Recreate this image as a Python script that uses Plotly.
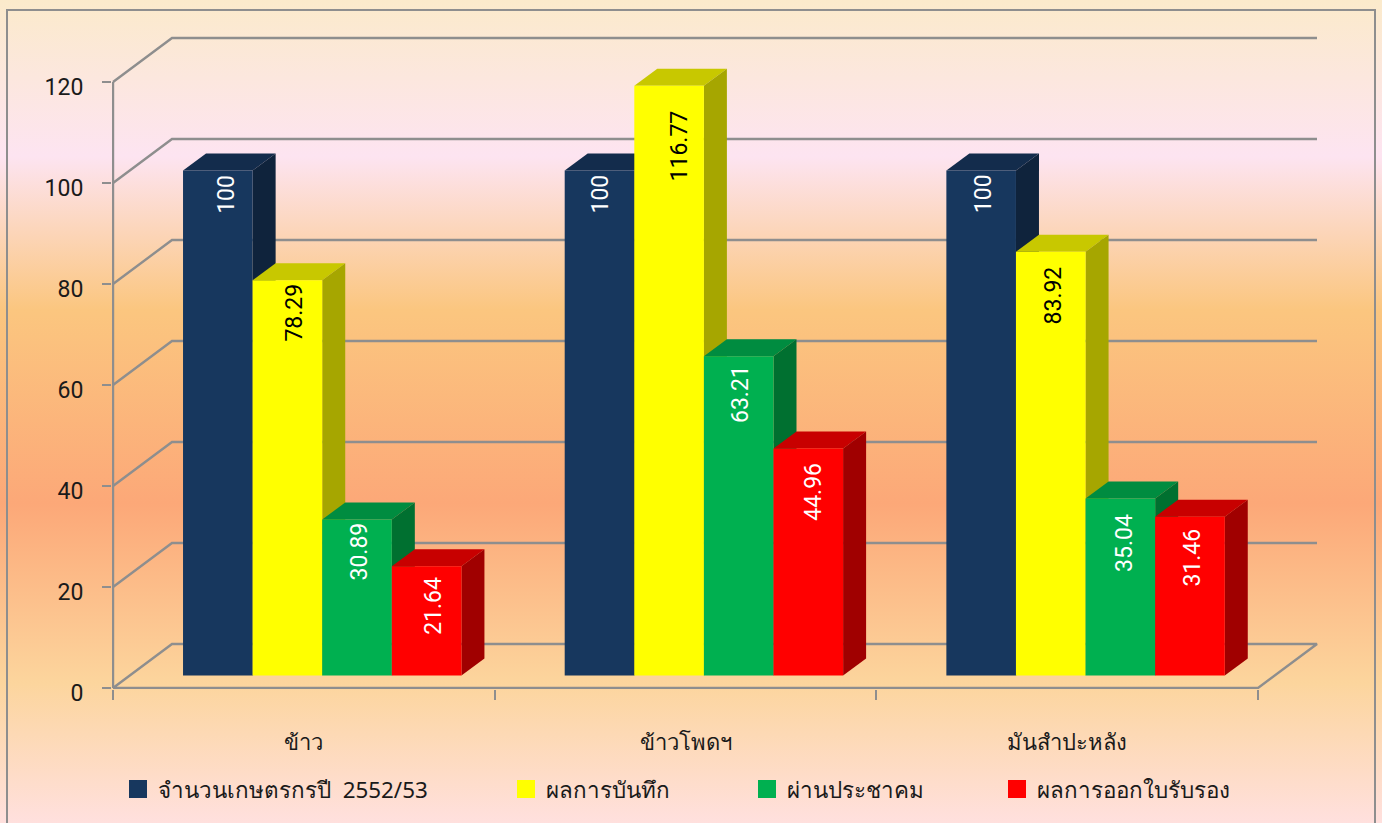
import plotly.graph_objects as go

categories = ["ข้าว", "ข้าวโพดฯ", "มันสำปะหลัง"]
series_names = ["จำนวนเกษตรกรปี  2552/53", "ผลการบันทึก", "ผ่านประชาคม", "ผลการออกใบรับรอง"]
farmers = [100, 100, 100]
recorded = [78.29, 116.77, 83.92]
community = [30.89, 63.21, 35.04]
certified = [21.64, 44.96, 31.46]
series_values = [farmers, recorded, community, certified]
front_colors = ["#17375E", "#FFFF00", "#00B050", "#FF0000"]
top_colors = ["#132C4C", "#C8C800", "#008C40", "#C80000"]
side_colors = ["#0F233C", "#A6A600", "#007030", "#A00000"]
label_colors = ["white", "black", "white", "white"]
label_drops = [[2, 2, 2], [1, 23, 13], [1, 7, 13], [9, 12, 10]]
label_shifts = [[8, 0, 2], [7, 10, 3], [2, 2, 4], [7, 5, 3]]
y_ticks = [0, 20, 40, 60, 80, 100, 120]

W, H = 1382, 823
FIG_H = 850  # taller than the window so the legends do not push the margins
L, R, T, B = 112, 1318, 36, 689
FONT = "Noto Sans, Lato, sans-serif"
NUM_FONT = "Roboto, Noto Sans, sans-serif"
GRID = "#8E8E8E"
TEXT = "#1a1a1a"

# Chart geometry in axis units
cat_px = (1258 - 113) / 3
unit_px = 606 / 120
wall_dx = 59 / cat_px
wall_dy = 44 / unit_px
plane_dx = 18.4 / cat_px
plane_dy = 12.5 / unit_px
depth_dx = 23 / cat_px
depth_dy = 17 / unit_px
bar_w = 69.6 / cat_px
x_range = [-1 / cat_px, 3 + wall_dx + 1 / cat_px]
y_range = [-1 / unit_px, 120 + wall_dy + 2 / unit_px]

fig = go.Figure()

# walls and floor
for v in y_ticks:
    if v == 0:
        xs = [0, wall_dx, 3 + wall_dx, 3, 0]
        ys = [0, wall_dy, wall_dy, 0, 0]
    else:
        xs = [0, wall_dx, 3 + wall_dx]
        ys = [v, v + wall_dy, v + wall_dy]
    fig.add_trace(go.Scatter(x=xs, y=ys, mode="lines", line=dict(color=GRID, width=2.4),
                             showlegend=False, hoverinfo="skip"))
fig.add_trace(go.Scatter(x=[0, 0], y=[0, 120], mode="lines", line=dict(color=GRID, width=2.4),
                         showlegend=False, hoverinfo="skip"))


def bar_x(c, s):
    return c + 0.5 + plane_dx + (s - 2 + 0.5) * bar_w


# side and top faces, computed from each value
for c in range(3):
    for s in range(4):
        v = series_values[s][c] + plane_dy
        x0 = bar_x(c, s) - bar_w / 2
        x1 = x0 + bar_w
        fig.add_trace(go.Scatter(
            x=[x0, x1, x1 + depth_dx, x0 + depth_dx, x0], y=[v, v, v + depth_dy, v + depth_dy, v],
            xaxis="x2", yaxis="y2", mode="lines", fill="toself", fillcolor=top_colors[s],
            line=dict(width=0), showlegend=False, hoverinfo="skip"))
        fig.add_trace(go.Scatter(
            x=[x1, x1 + depth_dx, x1 + depth_dx, x1, x1],
            y=[plane_dy, plane_dy + depth_dy, v + depth_dy, v, plane_dy],
            xaxis="x2", yaxis="y2", mode="lines", fill="toself", fillcolor=side_colors[s],
            line=dict(width=0), showlegend=False, hoverinfo="skip"))

# front faces
for s in range(4):
    fig.add_trace(go.Bar(
        x=[bar_x(c, s) for c in range(3)], y=series_values[s], base=plane_dy, width=bar_w,
        marker=dict(color=front_colors[s], line=dict(width=0)), name=series_names[s],
        xaxis="x3", yaxis="y3", showlegend=False))

# legends
legend_left = [118, 506, 747, 997]
for s in range(4):
    key = "legend" if s == 0 else f"legend{s + 1}"
    fig.add_trace(go.Scatter(
        x=[None], y=[None], mode="markers", name=series_names[s], legend=key,
        marker=dict(symbol="square", size=16, color=front_colors[s], line=dict(color=front_colors[s], width=2)),
        hoverinfo="skip"))
    fig.update_layout({key: dict(
        x=(legend_left[s] - L) / (R - L), y=1 - (768 - T) / (B - T), xref="paper", yref="paper",
        xanchor="left", yanchor="top", bgcolor="rgba(0,0,0,0)", borderwidth=0,
        font=dict(family=FONT, size=22.4, color=TEXT))})

# value labels
annotations = []
for s in range(4):
    for c in range(3):
        val = series_values[s][c]
        annotations.append(dict(
            x=bar_x(c, s) + label_shifts[s][c] / cat_px,
            y=val + plane_dy - label_drops[s][c] / unit_px, xref="x3", yref="y3",
            text=f"{val:g}", textangle=-90, showarrow=False, yanchor="top", xanchor="center",
            font=dict(family=NUM_FONT, size=23, color=label_colors[s])))

axis_common = dict(range=x_range, fixedrange=True, showgrid=False, zeroline=False, showline=False)
y_common = dict(range=y_range, fixedrange=True, showgrid=False, zeroline=False, showline=False)
bg_svg = ("data:image/svg+xml;utf8,<svg xmlns='http://www.w3.org/2000/svg' width='1382' height='823' preserveAspectRatio='none'>"
          "<defs><linearGradient id='g' x1='0' y1='0' x2='0' y2='1'>"
          "<stop offset='0' stop-color='%23FBEACB'/><stop offset='0.19' stop-color='%23FDE4F1'/>"
          "<stop offset='0.377' stop-color='%23FBC67F'/><stop offset='0.612' stop-color='%23FCA878'/>"
          "<stop offset='0.83' stop-color='%23FCD59D'/><stop offset='1' stop-color='%23FFE0DE'/>"
          "</linearGradient></defs><rect width='1382' height='823' fill='url(%23g)'/></svg>")

fig.update_layout(
    width=W, height=FIG_H, autosize=False,
    margin=dict(l=L, r=W - R, t=T, b=FIG_H - B),
    paper_bgcolor="white", plot_bgcolor="rgba(0,0,0,0)",
    barmode="overlay", showlegend=True, annotations=annotations,
    font=dict(family=FONT, color=TEXT),
    xaxis=dict(axis_common, tickmode="array", tickvals=[0, 1, 2, 3], ticktext=["", "", "", ""],
               ticks="outside", ticklen=10, tickwidth=2, tickcolor=GRID),
    yaxis=dict(y_common, tickmode="array", tickvals=y_ticks, ticks="outside", ticklen=9, tickwidth=2,
               tickcolor=GRID, tickfont=dict(family=NUM_FONT, size=23, color=TEXT), ticklabelstandoff=14,
               ticklabelshift=5),
    xaxis2=dict(axis_common, overlaying="x", tickmode="array", tickvals=[0.5, 1.5, 2.5], ticktext=categories,
                side="bottom", ticks="", tickfont=dict(family=FONT, size=22, color=TEXT), ticklabelstandoff=38),
    yaxis2=dict(y_common, overlaying="y", showticklabels=False, ticks=""),
    xaxis3=dict(axis_common, overlaying="x", showticklabels=False, ticks=""),
    yaxis3=dict(y_common, overlaying="y", showticklabels=False, ticks=""),
    images=[dict(source=bg_svg, xref="paper", yref="paper", x=-L / (R - L), sizex=W / (R - L),
                 y=1 + T / (B - T), sizey=H / (B - T), xanchor="left", yanchor="top",
                 sizing="stretch", layer="below")],
    shapes=[dict(type="rect", xref="paper", yref="paper", layer="above",
                 x0=(7 - L) / (R - L), x1=(1375 - L) / (R - L),
                 y0=1 - (860 - T) / (B - T), y1=1 - (10 - T) / (B - T),
                 line=dict(color=GRID, width=2))],
)

fig.write_html("out.html", config={"displayModeBar": False},
               post_script="document.body.style.margin='0';document.body.style.overflow='hidden';")
